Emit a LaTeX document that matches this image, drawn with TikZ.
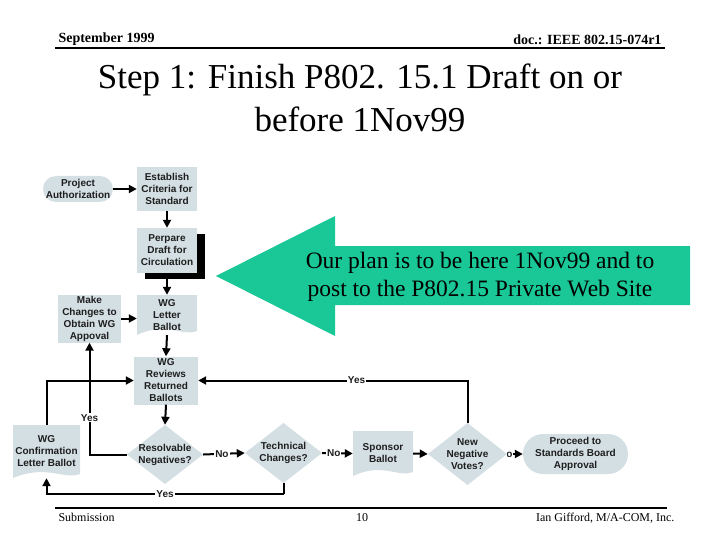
\documentclass[tikz,border=0pt]{standalone}
\usepackage{fontspec}
\setmainfont{Liberation Serif}
\newfontfamily\arialf{Liberation Sans}
\usetikzlibrary{arrows.meta,calc,shadows,backgrounds}
\definecolor{flowfill}{RGB}{212,223,228}
\definecolor{callgreen}{RGB}{25,200,150}
\definecolor{flowtext}{RGB}{30,30,30}
\begin{document}
\begin{tikzpicture}[x=1pt,y=-1pt,
  flowbase/.style={font=\arialf\bfseries\fontsize{10}{12}\selectfont, text=flowtext, align=center, inner sep=0pt, rectangle},
  procbox/.style={flowbase, fill=flowfill},
  termbox/.style={flowbase, fill=flowfill, rounded corners=#1},
  decision/.style={flowbase, path picture={\fill[flowfill] (path picture bounding box.north) -- (path picture bounding box.east) -- (path picture bounding box.south) -- (path picture bounding box.west) -- cycle;}},
  docshape/.style={flowbase, path picture={\fill[flowfill] (path picture bounding box.south west) -- (path picture bounding box.north west) -- (path picture bounding box.north east) -- ($(path picture bounding box.south east)+(0,-4)$) .. controls ($(path picture bounding box.south west)!0.75!(path picture bounding box.south east)+(0,2)$) and ($(path picture bounding box.south west)!0.5!(path picture bounding box.south east)+(0,-14)$) .. (path picture bounding box.south west) -- cycle;}},
  conn/.style={line width=2pt, draw=black, -{Triangle[length=8pt,width=8pt]}},
  plainline/.style={line width=2pt, draw=black},
  lbl/.style={font=\arialf\bfseries\fontsize{10}{12}\selectfont, fill=white, inner sep=1pt, text=flowtext},
  hdr/.style={font=\bfseries\fontsize{14}{16}\selectfont},
  ftr/.style={font=\fontsize{12}{14}\selectfont},
  ttl/.style={font=\fontsize{35}{43}\selectfont, anchor=base}
]
\useasboundingbox (0,0) rectangle (720,540);

% header and footer
\node[hdr, anchor=base west] (hdl) at (55,43) {September 1999};
\node[hdr, anchor=base east] (hdr) at (665,45) {doc.: IEEE 802.15-074r1};
\draw[line width=2pt] (55,48.5) -- (665,48.5);
\draw[line width=1.5pt] (55,508) -- (667,508);
\node[ftr, anchor=base west] (fl) at (55,521) {Submission};
\node[ftr, anchor=base] (fc) at (362,521) {10};
\node[ftr, anchor=base east] (fr) at (678,521) {Ian Gifford, M/A-COM, Inc.};

% title
\node[ttl] (t1) at (360,89) {Step 1: Finish P802. 15.1 Draft on or};
\node[ttl] (t2) at (360,132) {before 1Nov99};

% green callout arrow
\fill[callgreen] (216,276) -- (335,216) -- (335,246) -- (690,246) -- (690,305) -- (335,305) -- (335,336) -- cycle;
\node[font=\fontsize{23.5}{28}\selectfont, align=center] (note) at (480,277) {Our plan is to be here 1Nov99 and to\\post to the P802.15 Private Web Site};

% flowchart nodes
\node[termbox=13pt, minimum width=70pt, minimum height=26pt] (proj) at (78,189) {Project\\Authorization};
\node[procbox, minimum width=60pt, minimum height=44pt] (estab) at (167,189) {Establish\\Criteria for\\Standard};
\node[procbox, minimum width=60pt, minimum height=45pt, drop shadow={shadow xshift=8pt, shadow yshift=-6pt, fill=black, opacity=1}] (draft) at (167,250.5) {Perpare\\Draft for\\Circulation};
\node[docshape, minimum width=60pt, minimum height=40pt] (wglb) at (167,315) {WG\\Letter\\Ballot};
\node[procbox, minimum width=63pt, minimum height=48pt] (make) at (89.5,318.5) {Make\\Changes to\\Obtain WG\\Appoval};
\node[procbox, minimum width=64pt, minimum height=48pt] (rev) at (166,380.5) {WG\\Reviews\\Returned\\Ballots};
\node[decision, minimum width=76pt, minimum height=59pt] (res) at (165,454.5) {Resolvable\\Negatives?};
\node[decision, minimum width=77pt, minimum height=60pt] (tech) at (283.5,453) {Technical\\Changes?};
\node[docshape, minimum width=67pt, minimum height=53pt] (conf) at (46.5,451.5) {WG\\Confirmation\\Letter Ballot};
\node[docshape, minimum width=60pt, minimum height=45pt] (spon) at (383,453.5) {Sponsor\\Ballot};
\node[decision, minimum width=79pt, minimum height=62pt] (newneg) at (467.5,454) {New\\Negative\\Votes?};
\node[termbox=20pt, minimum width=105pt, minimum height=40pt] (proc) at (575.5,454) {Proceed to\\Standards Board\\Approval};

% connectors
\draw[conn] (proj.east) -- (estab.west);
\draw[conn] (estab.south) -- (draft.north);
\draw[conn] (draft.south) -- (wglb.north);
\draw[conn] (make.east) -- (make.east -| wglb.west);
\draw[conn] (wglb.south) -- (rev.north);
\draw[conn] (rev.south) -- (res.north);
\draw[conn] (res.west) -| node[lbl, pos=0.665] {Yes} (make.south);
\draw[conn] (res.east) -- node[lbl, pos=0.45] {No} (tech.west);
\draw[conn] (tech.east) -- node[lbl, pos=0.38] {No} (spon.west);
\coordinate (ybot) at (283.5,494);
\draw[plainline] (tech.south) -- (ybot);
\draw[conn] (ybot) -| node[lbl, pos=0.25] {Yes} (conf.south);
\draw[conn] (conf.north) |- (rev.west);
\draw[conn] (spon.east) -- (newneg.west);
\draw[conn] (newneg.north) |- node[lbl, pos=0.706] {Yes} (rev.east);
\draw[conn] (newneg.east) -- (proc.west);
% the "No" label of this connector is half hidden by the diamond
\begin{scope}
\clip ($(newneg.east)+(0.5,-10)$) rectangle ($(proc.west)+(0,10)$);
\node[lbl] (nolbl) at ($(newneg.east)+(-1.5,0)$) {No};
\end{scope}
\end{tikzpicture}
\end{document}
